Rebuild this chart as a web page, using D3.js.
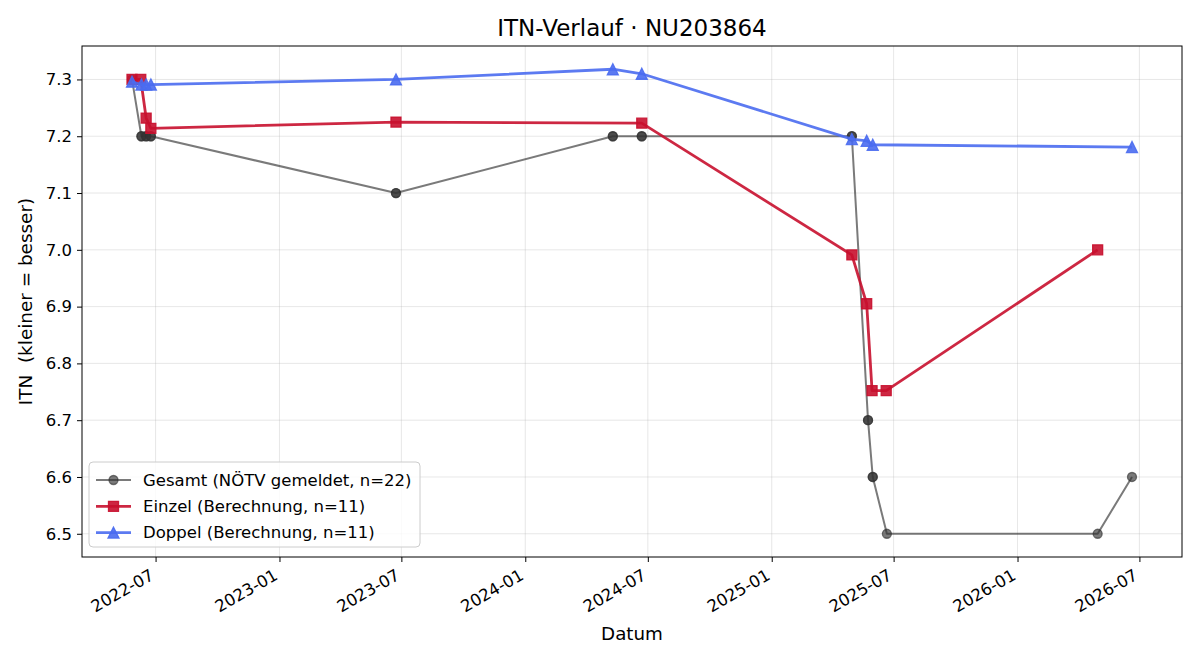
<!DOCTYPE html>
<html>
<head>
<meta charset="utf-8">
<script src="https://cdn.jsdelivr.net/npm/d3@7"></script>
<style>
  body { margin: 0; background: #fff; }
  text { font-family: "DejaVu Sans", sans-serif; fill: #000; }
</style>
</head>
<body>
<script>
const width = 1200,
    height = 660,
    margin = { top: 46, right: 18, bottom: 103, left: 82 }

// Gesamt (NÖTV gemeldet) - doppelte Meldungen am selben Tag
const gesamtDates = ["2022-05-27", "2022-06-10", "2022-06-10", "2022-06-17", "2022-06-17", "2022-06-24", "2022-06-24",
    "2023-06-23", "2023-06-23", "2024-05-10", "2024-05-10", "2024-06-22", "2024-06-22", "2025-04-30", "2025-04-30",
    "2025-05-24", "2025-05-24", "2025-05-31", "2025-05-31", "2025-06-21", "2026-04-30", "2026-06-20"]
const gesamtValues = [7.3, 7.2, 7.2, 7.2, 7.2, 7.2, 7.2,
    7.1, 7.1, 7.2, 7.2, 7.2, 7.2, 7.2, 7.2,
    6.7, 6.7, 6.6, 6.6, 6.5, 6.5, 6.6]

const einzelDates = ["2022-05-27", "2022-06-09", "2022-06-17", "2022-06-24", "2023-06-23", "2024-06-22",
    "2025-04-30", "2025-05-22", "2025-05-30", "2025-06-20", "2026-04-30"]
const einzelValues = [7.3, 7.3, 7.232, 7.214, 7.225, 7.223, 6.991, 6.905, 6.752, 6.752, 7.0]

const doppelDates = ["2022-05-27", "2022-06-10", "2022-06-17", "2022-06-24", "2023-06-23", "2024-05-10",
    "2024-06-22", "2025-04-30", "2025-05-22", "2025-05-31", "2026-06-20"]
const doppelValues = [7.296, 7.291, 7.291, 7.291, 7.3, 7.318, 7.31, 7.195, 7.192, 7.185, 7.181]

const xTickLabels = ["2022-07", "2023-01", "2023-07", "2024-01", "2024-07", "2025-01", "2025-07", "2026-01", "2026-07"]
const yTicks = [6.5, 6.6, 6.7, 6.8, 6.9, 7.0, 7.1, 7.2, 7.3]

const parse = d3.timeParse("%Y-%m-%d")
const parseMonth = d3.timeParse("%Y-%m")

const series = [
    { name: "Gesamt (NÖTV gemeldet, n=22)", dates: gesamtDates, values: gesamtValues,
      color: "#333333", alpha: 0.65, lw: 2, marker: "circle", ms: 9 },
    { name: "Einzel (Berechnung, n=11)", dates: einzelDates, values: einzelValues,
      color: "#c8102e", alpha: 0.9, lw: 2.8, marker: "square", ms: 10 },
    { name: "Doppel (Berechnung, n=11)", dates: doppelDates, values: doppelValues,
      color: "#4a6cf0", alpha: 0.9, lw: 2.8, marker: "triangle", ms: 11 }
]
series.forEach(s => { s.points = s.dates.map((d, i) => [parse(d), s.values[i]]) })

const allDates = series.flatMap(s => s.points.map(p => +p[0]))
const allVals = series.flatMap(s => s.values)
const [d0, d1] = d3.extent(allDates)
const [v0, v1] = d3.extent(allVals)
const dPad = (d1 - d0) * 0.05, vPad = (v1 - v0) * 0.05

const x = d3.scaleTime()
    .domain([new Date(d0 - dPad), new Date(d1 + dPad)])
    .range([margin.left, width - margin.right])
const y = d3.scaleLinear()
    .domain([v0 - vPad, v1 + vPad])
    .range([height - margin.bottom, margin.top])

const svg = d3.select("body")
    .append("svg")
    .attr("width", width)
    .attr("height", height)

const xTicks = xTickLabels.map(parseMonth)

// grid
svg.append("g")
    .selectAll("line")
    .data(xTicks)
    .join("line")
    .attr("x1", d => x(d)).attr("x2", d => x(d))
    .attr("y1", margin.top).attr("y2", height - margin.bottom)
    .attr("stroke", "#b0b0b0").attr("stroke-opacity", 0.3).attr("stroke-width", 1)
svg.append("g")
    .selectAll("line")
    .data(yTicks)
    .join("line")
    .attr("x1", margin.left).attr("x2", width - margin.right)
    .attr("y1", d => y(d)).attr("y2", d => y(d))
    .attr("stroke", "#b0b0b0").attr("stroke-opacity", 0.3).attr("stroke-width", 1)

// axes
const xAxis = svg.append("g")
    .attr("transform", `translate(0,${height - margin.bottom})`)
    .call(d3.axisBottom(x).tickValues(xTicks).tickFormat(d3.timeFormat("%Y-%m")).tickSize(5).tickSizeOuter(0))
xAxis.select(".domain").remove()
xAxis.selectAll("line").attr("stroke", "#000")
xAxis.selectAll("text")
    .attr("font-size", 16.5)
    .attr("text-anchor", "end")
    .attr("dy", null)
    .attr("y", null)
    .attr("transform", "translate(-7,11) rotate(-30)")
    .attr("dominant-baseline", "hanging")

const yAxis = svg.append("g")
    .attr("transform", `translate(${margin.left},0)`)
    .call(d3.axisLeft(y).tickValues(yTicks).tickFormat(d3.format(".1f")).tickSize(5).tickPadding(5))
yAxis.select(".domain").remove()
yAxis.selectAll("line").attr("stroke", "#000")
yAxis.selectAll("text").attr("font-size", 16.5)

// frame
svg.append("rect")
    .attr("x", margin.left).attr("y", margin.top)
    .attr("width", width - margin.left - margin.right)
    .attr("height", height - margin.top - margin.bottom)
    .attr("fill", "none").attr("stroke", "#000").attr("stroke-width", 1)

function markerPath(type, ms) {
    const r = ms / 2
    if (type === "square") return `M${-r},${-r}H${r}V${r}H${-r}Z`
    if (type === "triangle") return `M0,${-r}L${-r},${r}L${r},${r}Z`
    return d3.symbol(d3.symbolCircle, Math.PI * r * r)()
}

function drawSeries(g, s) {
    g.append("path")
        .datum(s.points)
        .attr("d", d3.line().x(d => x(d[0])).y(d => y(d[1])))
        .attr("fill", "none")
        .attr("stroke", s.color)
        .attr("stroke-opacity", s.alpha)
        .attr("stroke-width", s.lw)
        .attr("stroke-linejoin", "round")
    g.selectAll("path.m")
        .data(s.points)
        .join("path")
        .attr("class", "m")
        .attr("transform", d => `translate(${x(d[0])},${y(d[1])})`)
        .attr("d", markerPath(s.marker, s.ms))
        .attr("fill", s.color).attr("fill-opacity", s.alpha)
        .attr("stroke", s.color).attr("stroke-opacity", s.alpha)
        .attr("stroke-width", 1.3)
}

const plot = svg.append("g")
series.forEach(s => drawSeries(plot.append("g"), s))

// labels
svg.append("text")
    .attr("x", (margin.left + width - margin.right) / 2)
    .attr("y", 36)
    .attr("text-anchor", "middle")
    .attr("font-size", 23)
    .text("ITN-Verlauf · NU203864")

svg.append("text")
    .attr("x", (margin.left + width - margin.right) / 2)
    .attr("y", 640)
    .attr("text-anchor", "middle")
    .attr("font-size", 18.3)
    .text("Datum")

svg.append("text")
    .attr("transform", `translate(32,${(margin.top + height - margin.bottom) / 2}) rotate(-90)`)
    .attr("text-anchor", "middle")
    .attr("font-size", 18.4)
    .attr("xml:space", "preserve")
    .style("white-space", "pre")
    .text("ITN  (kleiner = besser)")

// legend
const legend = svg.append("g").attr("transform", "translate(89,462)")
legend.append("rect")
    .attr("width", 331).attr("height", 85)
    .attr("rx", 4)
    .attr("fill", "#fff").attr("fill-opacity", 0.8)
    .attr("stroke", "#cccccc")
series.forEach((s, i) => {
    const row = legend.append("g").attr("transform", `translate(0,${18 + i * 26.3})`)
    row.append("line")
        .attr("x1", 7).attr("x2", 42)
        .attr("stroke", s.color).attr("stroke-opacity", s.alpha).attr("stroke-width", s.lw)
    row.append("path")
        .attr("transform", "translate(24.5,0)")
        .attr("d", markerPath(s.marker, s.ms))
        .attr("fill", s.color).attr("fill-opacity", s.alpha)
        .attr("stroke", s.color).attr("stroke-opacity", s.alpha)
        .attr("stroke-width", 1.3)
    row.append("text")
        .attr("x", 54).attr("dy", "0.35em")
        .attr("font-size", 16.5)
        .text(s.name)
})
</script>
</body>
</html>
